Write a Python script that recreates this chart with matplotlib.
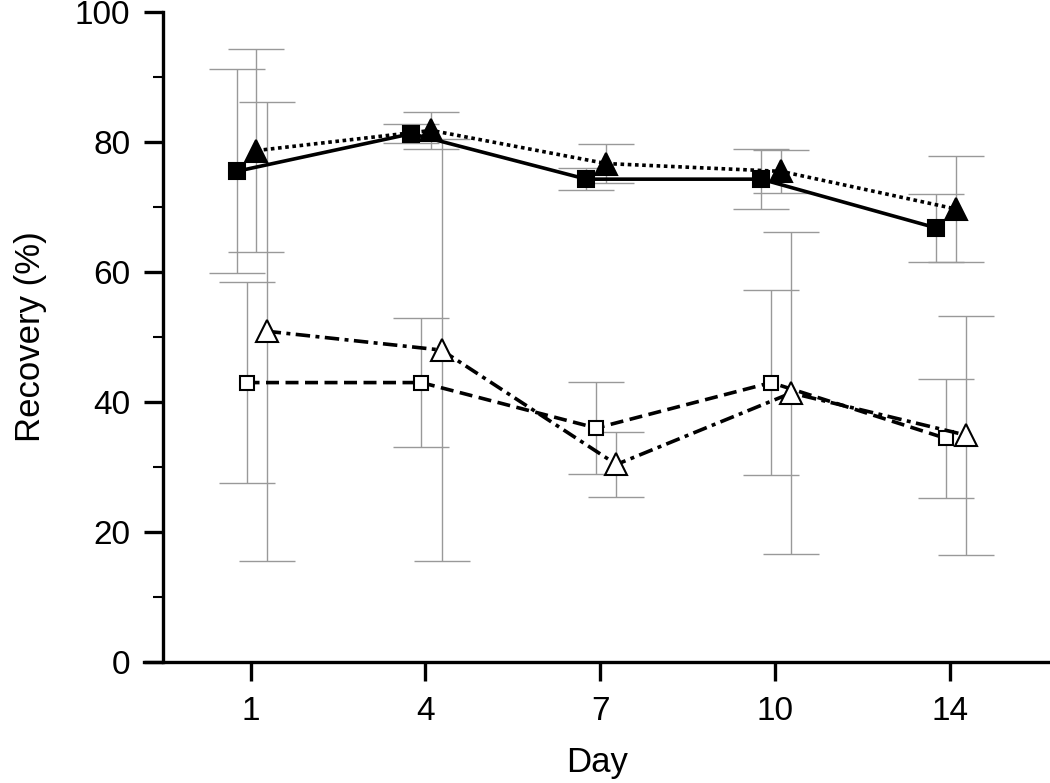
import numpy as np
import matplotlib
matplotlib.use("Agg")
import matplotlib.pyplot as plt

plt.rcParams['font.family'] = ['Liberation Sans', 'DejaVu Sans']

days = ['1', '4', '7', '10', '14']

# filled squares, solid line
sq_fill = [75.5, 81.3, 74.3, 74.3, 66.8]
sq_fill_err = [15.7, 1.5, 1.7, 4.6, 5.2]
# filled triangles, dotted line
tri_fill = [78.7, 81.8, 76.7, 75.5, 69.7]
tri_fill_err = [15.6, 2.9, 3.0, 3.3, 8.2]
# open squares, dashed line
sq_open = [43.0, 43.0, 36.0, 43.0, 34.4]
sq_open_err = [15.5, 9.9, 7.1, 14.2, 9.2]
# open triangles, dash-dot line
tri_open = [50.9, 48.0, 30.4, 41.4, 34.9]
tri_open_err = [35.3, 32.5, 5.0, 24.8, 18.4]

x = np.arange(1, len(days) + 1)

fig = plt.figure(figsize=(10.5, 7.83), dpi=100)
ax = fig.add_axes([0.137, 0.1545, 0.863, 0.83])

series = [
    (sq_fill, sq_fill_err, -0.08, 's', 'black', (0, ()), 11.5),
    (sq_open, sq_open_err, -0.023, 's', 'white', (0, (3.6, 1.8)), 10.5),
    (tri_fill, tri_fill_err, 0.034, '^', 'black', (0, (1, 1)), 16),
    (tri_open, tri_open_err, 0.092, '^', 'white', (0, (4, 1.5, 1.1, 1.5)), 16),
]

# error bars first, behind the lines
for vals, err, off, mk, fc, ls, ms in series:
    ax.errorbar(x + off, vals, yerr=err, fmt='none', ecolor='#999999',
                elinewidth=1.0, capsize=20.5, capthick=1.0, zorder=1)

for vals, err, off, mk, fc, ls, ms in series:
    ax.plot(x + off, vals, color='black', lw=2.6, linestyle=ls,
            marker=mk, markersize=ms, markerfacecolor=fc,
            markeredgecolor='black', markeredgewidth=1.5, zorder=3)

ax.set_xlim(0.39, 5.571)
ax.set_ylim(0, 100)
ax.spines['top'].set_visible(False)
ax.spines['right'].set_visible(False)
ax.spines['left'].set_position(('data', 0.5))
ax.spines['left'].set_linewidth(2.4)
ax.spines['bottom'].set_linewidth(2.4)

ax.set_xticks(x)
ax.set_xticklabels(days)
ax.set_yticks([0, 20, 40, 60, 80, 100])
ax.set_yticks([10, 30, 50, 70, 90], minor=True)
ax.tick_params(axis='both', which='major', length=13.5, width=2.4,
               labelsize=24)
ax.tick_params(axis='y', which='major', pad=10)
ax.tick_params(axis='x', which='major', pad=11)
ax.tick_params(axis='y', which='minor', length=7, width=1.5)

ax.set_xlabel('Day', fontsize=25, labelpad=14)
ax.set_ylabel('Recovery (%)', fontsize=25, labelpad=20)

fig.savefig('out.png', dpi=100)
